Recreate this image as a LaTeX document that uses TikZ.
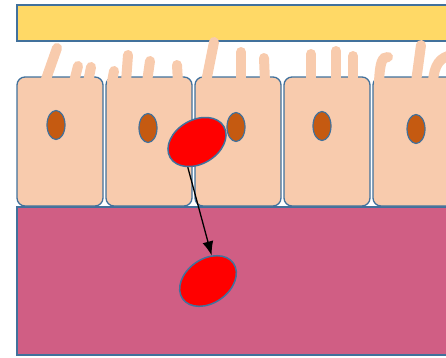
\documentclass[tikz,border=0pt]{standalone}
\usepackage{tikz}
\usetikzlibrary{arrows.meta,shapes.geometric}

\definecolor{outline}{RGB}{65,113,156}
\definecolor{lumen}{RGB}{255,217,102}
\definecolor{cyto}{RGB}{248,203,173}
\definecolor{nucl}{RGB}{197,90,17}
\definecolor{tissue}{RGB}{208,94,132}

\tikzset{
  cell/.style={draw=outline, fill=cyto, line width=1.3pt, rounded corners=8pt},
  villus/.style={draw=cyto, line width=10pt, line cap=round},
  rbc/.style={ellipse, draw=outline, fill=red, line width=1.5pt,
    minimum width=62pt, minimum height=44pt, inner sep=0pt}
}

\begin{document}
\begin{tikzpicture}[x=1pt,y=1pt]
\useasboundingbox (0,0) rectangle (446,357);
\clip (0,0) rectangle (446,357);

% lumen
\draw[draw=outline, fill=lumen, line width=1.4pt] (17,316) rectangle (460,352);

% tissue underneath
\draw[draw=outline, fill=tissue, line width=1.4pt] (17,2) rectangle (460,150);

% epithelial cells and their nuclei
\foreach \i/\nx/\ny in {0/56/232, 1/148/229, 2/236/230, 3/322/231, 4/416/228}{
  \draw[cell] (17+89*\i,151) rectangle ++(86,129);
  \draw[draw=outline, fill=nucl, line width=1.2pt] (\nx,\ny) ellipse [x radius=9, y radius=14.5];
}

% microvilli
\foreach \a/\b/\c/\d in {45/275/57/309, 74/275/78/291, 88/275/91/290, 112/275/114/286,
  126/275/128/302, 147/275/150/296, 178/275/177/292, 206/275/214/315,
  241/275/241/305, 265/275/264/299, 311/275/311/303, 336/275/336/306,
  353/275/353/301, 416/275/421/312}
  \draw[villus] (\a,\b) -- (\c,\d);
\draw[villus] (379,275) .. controls (380,295) and (382,300) .. (388,300);
\draw[villus] (433,275) .. controls (434,292) and (440,300) .. (452,302);

% red cell crossing into the tissue
\node[rbc, rotate=30] (rbc1) at (197,215) {};
\node[rbc, rotate=35] (rbc2) at (208,76) {};
\draw[-{Latex[length=14pt,width=11pt]}, line width=1.3pt] (rbc1.220) -- (rbc2.47);

\end{tikzpicture}
\end{document}
